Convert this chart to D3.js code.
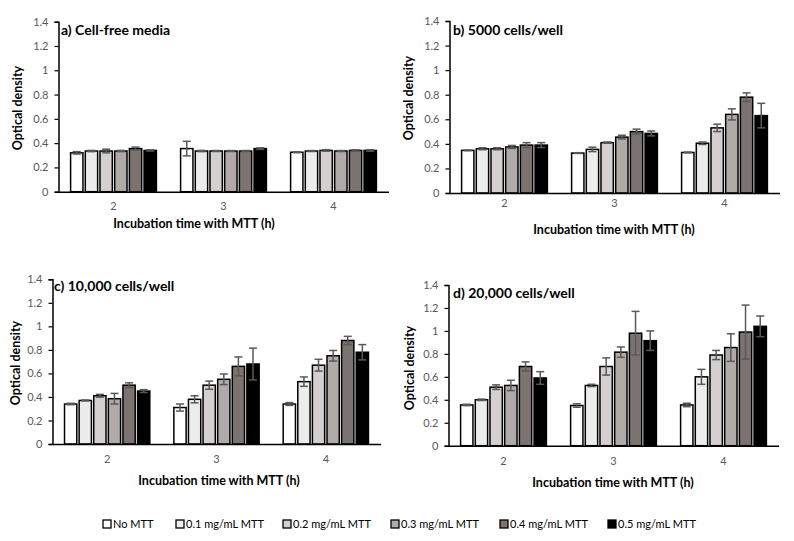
<!DOCTYPE html>
<html><head><meta charset="utf-8">
<script src="https://cdn.jsdelivr.net/npm/d3@7"></script>
<style>
body{margin:0;background:#fff;}
text{font-family:Lato,"Open Sans",sans-serif;}
</style>
</head><body>
<svg id="c" width="794" height="541"></svg>
<script>
// ---- data ----
const categories = ["2", "3", "4"];
const seriesNames = ["No MTT", "0.1 mg/mL MTT", "0.2 mg/mL MTT", "0.3 mg/mL MTT", "0.4 mg/mL MTT", "0.5 mg/mL MTT"];
const seriesColors = ["#ffffff", "#ececec", "#d4d0cf", "#b0aaa8", "#7a7370", "#000000"];
const yTicks = [0, 0.2, 0.4, 0.6, 0.8, 1, 1.2, 1.4];

// rows = incubation time (2,3,4 h), columns = series
const cellFreeMean = [[0.32, 0.335, 0.335, 0.335, 0.355, 0.34], [0.355, 0.335, 0.335, 0.335, 0.335, 0.355], [0.325, 0.335, 0.34, 0.335, 0.34, 0.34]];
const cellFreeErr  = [[0.01, 0.005, 0.015, 0.005, 0.012, 0.005], [0.06, 0.005, 0.004, 0.004, 0.004, 0.006], [0.004, 0.004, 0.006, 0.004, 0.005, 0.006]];
const c5000Mean = [[0.347, 0.36, 0.36, 0.375, 0.39, 0.39], [0.325, 0.355, 0.41, 0.455, 0.50, 0.485], [0.33, 0.405, 0.53, 0.64, 0.78, 0.63]];
const c5000Err  = [[0.003, 0.008, 0.008, 0.012, 0.02, 0.02], [0.003, 0.018, 0.005, 0.015, 0.02, 0.02], [0.003, 0.01, 0.03, 0.045, 0.035, 0.10]];
const c10000Mean = [[0.34, 0.37, 0.41, 0.385, 0.50, 0.45], [0.31, 0.38, 0.50, 0.55, 0.66, 0.68], [0.34, 0.53, 0.67, 0.75, 0.88, 0.78]];
const c10000Err  = [[0.006, 0.004, 0.012, 0.045, 0.02, 0.012], [0.03, 0.03, 0.035, 0.045, 0.08, 0.135], [0.012, 0.04, 0.05, 0.045, 0.035, 0.065]];
const c20000Mean = [[0.355, 0.40, 0.51, 0.525, 0.69, 0.59], [0.35, 0.525, 0.69, 0.815, 0.98, 0.915], [0.355, 0.60, 0.79, 0.855, 0.99, 1.04]];
const c20000Err  = [[0.006, 0.006, 0.02, 0.045, 0.04, 0.055], [0.015, 0.01, 0.075, 0.045, 0.19, 0.085], [0.015, 0.065, 0.04, 0.12, 0.235, 0.09]];

const panelTitles = ["a) Cell-free media", "b) 5000 cells/well", "c) 10,000 cells/well", "d) 20,000 cells/well"];
const xTitle = "Incubation time with MTT (h)";
const yTitle = "Optical density";

// ---- layout ----
const panels = [
  {mean: cellFreeMean, err: cellFreeErr, title: panelTitles[0], x0: 58.5, w: 330, yB: 191.7, yT: 21.7, tx: 61, ty: 35, xtx: 194, xty: 223, ytx: 18, yty: 108, cy: 206},
  {mean: c5000Mean, err: c5000Err, title: panelTitles[1], x0: 449.5, w: 330, yB: 193, yT: 21, tx: 453, ty: 35, xtx: 614, xty: 229, ytx: 409, yty: 98, cy: 203},
  {mean: c10000Mean, err: c10000Err, title: panelTitles[2], x0: 52.5, w: 328, yB: 444, yT: 279.3, tx: 54, ty: 291, xtx: 219, xty: 480, ytx: 16, yty: 363, cy: 459},
  {mean: c20000Mean, err: c20000Err, title: panelTitles[3], x0: 448.5, w: 330, yB: 445.7, yT: 285, tx: 453, ty: 298, xtx: 613, xty: 482, ytx: 410, yty: 368, cy: 461}
];

const svg = d3.select("#c");

panels.forEach(p => {
  const g = svg.append("g");
  const x = d3.scaleBand().domain(categories).range([p.x0, p.x0 + p.w]).paddingInner(0.22).paddingOuter(0.11);
  const xi = d3.scaleBand().domain(seriesNames).range([0, x.bandwidth()]).paddingInner(0.16);
  const y = d3.scaleLinear().domain([0, 1.4]).range([p.yB, p.yT]);

  // y axis
  const ya = g.append("g").attr("transform", `translate(${p.x0},0)`)
    .call(d3.axisLeft(y).tickValues(yTicks).tickSize(4).tickPadding(6).tickFormat(d => d3.format("~g")(d)));
  ya.select(".domain").attr("stroke", "#000").attr("stroke-width", 1.5);
  ya.selectAll(".tick line").attr("stroke", "#000").attr("stroke-width", 1.2);
  ya.selectAll(".tick text").attr("fill", "#595959").style("font-size", "11px").style("font-family", "Lato, sans-serif");

  // bars
  categories.forEach((cat, ci) => {
    const cg = g.append("g").attr("transform", `translate(${x(cat)},0)`);
    cg.selectAll("rect").data(seriesNames).join("rect")
      .attr("x", s => xi(s))
      .attr("width", xi.bandwidth())
      .attr("y", (s, si) => y(p.mean[ci][si]))
      .attr("height", (s, si) => y(0) - y(p.mean[ci][si]))
      .attr("fill", (s, si) => seriesColors[si])
      .attr("stroke", "#000").attr("stroke-width", 1.5);
    // error bars
    seriesNames.forEach((s, si) => {
      const cx = xi(s) + xi.bandwidth() / 2;
      const m = p.mean[ci][si], e = p.err[ci][si];
      const eg = cg.append("g").attr("stroke", "#595959").attr("stroke-width", 1.5);
      eg.append("line").attr("x1", cx).attr("x2", cx).attr("y1", y(m - e)).attr("y2", y(m + e));
      eg.append("line").attr("x1", cx - 4).attr("x2", cx + 4).attr("y1", y(m + e)).attr("y2", y(m + e));
      eg.append("line").attr("x1", cx - 4).attr("x2", cx + 4).attr("y1", y(m - e)).attr("y2", y(m - e));
    });
  });

  // x axis
  const xa = g.append("g").attr("transform", `translate(0,${p.yB})`)
    .call(d3.axisBottom(x).tickSize(0).tickPadding(10));
  xa.select(".domain").attr("stroke", "#000").attr("stroke-width", 1.5);
  xa.selectAll(".tick text").attr("fill", "#595959").style("font-size", "11px").style("font-family", "Lato, sans-serif")
    .attr("dy", null)
    .attr("y", p.cy - p.yB + 4);

  // titles
  g.append("text").attr("x", p.tx).attr("y", p.ty).text(p.title)
    .style("font-size", "14px").style("font-weight", "bold").attr("fill", "#000");
  g.append("text").attr("x", p.xtx).attr("y", p.xty + 4.5).attr("text-anchor", "middle").text(xTitle)
    .style("font-size", "12.5px").style("font-weight", "bold").attr("fill", "#000");
  g.append("text").attr("transform", `translate(${p.ytx},${p.yty}) rotate(-90)`).attr("text-anchor", "middle")
    .attr("dy", "0.35em").text(yTitle)
    .style("font-size", "12.5px").style("font-weight", "bold").attr("fill", "#000");
});

// legend
const legendX = [103, 176, 283, 391, 500, 608];
const lg = svg.append("g");
seriesNames.forEach((s, i) => {
  lg.append("rect").attr("x", legendX[i]).attr("y", 520).attr("width", 8).attr("height", 8)
    .attr("fill", seriesColors[i]).attr("stroke", "#000").attr("stroke-width", 1.3);
  lg.append("text").attr("x", legendX[i] + 10).attr("y", 528).text(s)
    .style("font-size", "11px").attr("fill", "#000");
});
</script>
</body></html>
